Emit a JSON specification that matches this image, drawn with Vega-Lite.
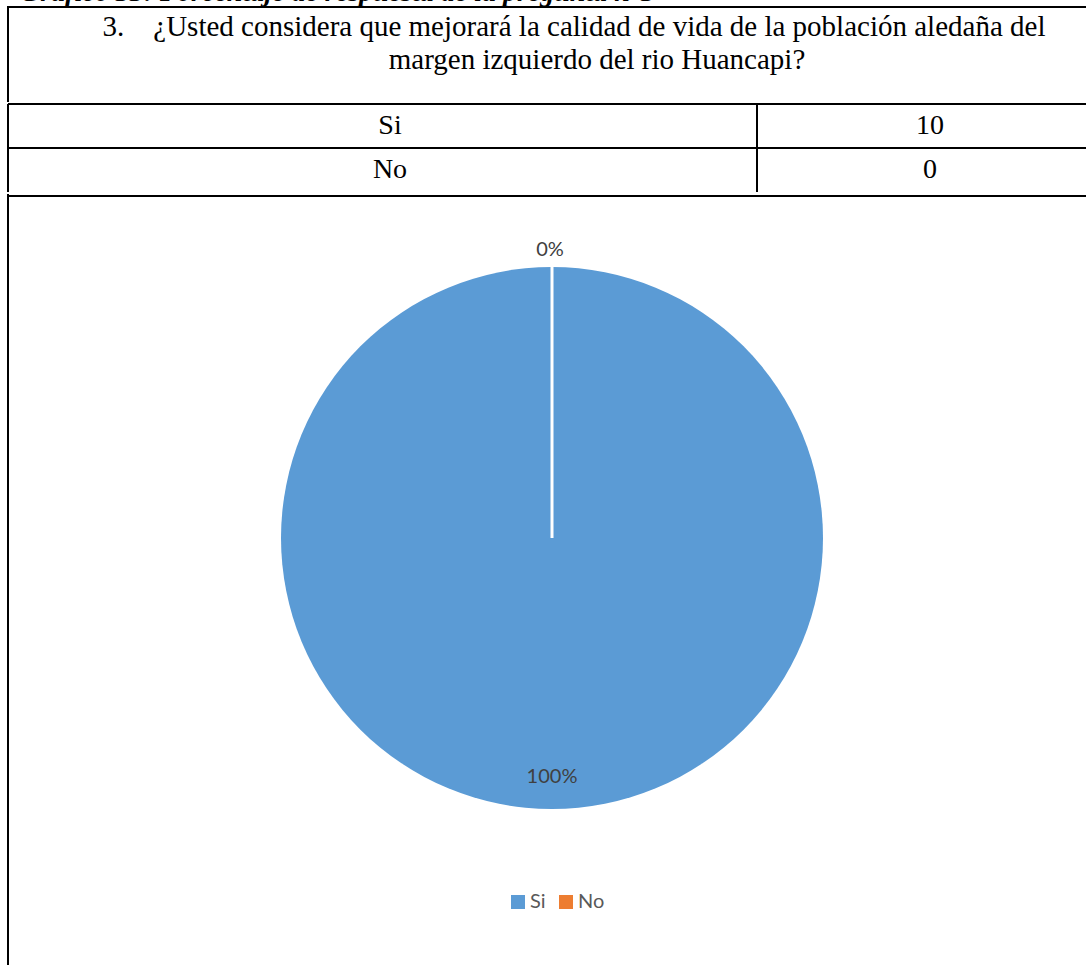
{
  "$schema": "https://vega.github.io/schema/vega-lite/v6.json",
  "padding": {"left": 7, "top": 0, "right": 0, "bottom": 0},
  "spacing": 0,
  "background": "white",
  "config": {"view": {"stroke": null}, "concat": {"spacing": 0}},
  "vconcat": [
    {
      "width": 1078,
      "height": 102,
      "data": {"values": [{"caption": "Gráfico 33: Porcentaje de respuesta de la pregunta n°3", "line1": "3.\u00a0\u00a0\u00a0\u00a0¿Usted considera que mejorará la calidad de vida de la población aledaña del", "line2": "margen izquierdo del rio Huancapi?"}]},
      "layer": [
        {"mark": {"type": "rule", "color": "black", "strokeWidth": 2},
         "encoding": {"y": {"datum": 7, "type": "quantitative", "scale": {"domain": [0, 102], "reverse": true, "nice": false, "zero": false}, "axis": null}}},
        {"mark": {"type": "rule", "color": "black", "strokeWidth": 2},
         "encoding": {"x": {"datum": 0, "type": "quantitative", "scale": {"domain": [0, 1078], "nice": false, "zero": false}, "axis": null}, "y": {"datum": 6, "type": "quantitative"}, "y2": {"datum": 102}}},
        {"mark": {"type": "text", "font": "Liberation Serif", "fontSize": 28, "fontStyle": "italic", "fontWeight": "bold", "align": "left", "baseline": "alphabetic", "clip": true, "color": "black"},
         "encoding": {"x": {"datum": 12, "type": "quantitative"}, "y": {"datum": 1, "type": "quantitative"}, "text": {"field": "caption"}}},
        {"mark": {"type": "text", "font": "Liberation Serif", "fontSize": 29, "align": "center", "baseline": "alphabetic", "color": "black"},
         "encoding": {"x": {"datum": 566, "type": "quantitative"}, "y": {"datum": 36, "type": "quantitative"}, "text": {"field": "line1"}}},
        {"mark": {"type": "text", "font": "Liberation Serif", "fontSize": 29, "align": "center", "baseline": "alphabetic", "color": "black"},
         "encoding": {"x": {"datum": 589, "type": "quantitative"}, "y": {"datum": 69, "type": "quantitative"}, "text": {"field": "line2"}}}
      ]
    },
    {
      "width": 1078,
      "height": 88,
      "data": {"values": [{"respuesta": "Si", "n": 10}, {"respuesta": "No", "n": 0}]},
      "layer": [
        {"mark": {"type": "rule", "color": "black", "strokeWidth": 2},
         "encoding": {"y": {"field": "respuesta", "type": "nominal", "sort": ["Si", "No"], "bandPosition": 0, "scale": {"type": "band", "paddingInner": 0, "paddingOuter": 0}, "axis": null}}},
        {"mark": {"type": "rule", "color": "black", "strokeWidth": 2},
         "encoding": {"x": {"datum": 749, "type": "quantitative", "scale": {"domain": [0, 1078], "nice": false, "zero": false}, "axis": null}}},
        {"mark": {"type": "rule", "color": "black", "strokeWidth": 2},
         "encoding": {"x": {"datum": 0, "type": "quantitative"}}},
        {"mark": {"type": "text", "font": "Liberation Serif", "fontSize": 28, "align": "center", "baseline": "middle", "color": "black"},
         "encoding": {"x": {"datum": 382, "type": "quantitative"}, "y": {"field": "respuesta", "type": "nominal", "sort": ["Si", "No"]}, "text": {"field": "respuesta"}}},
        {"mark": {"type": "text", "font": "Liberation Serif", "fontSize": 28, "align": "center", "baseline": "middle", "color": "black"},
         "encoding": {"x": {"datum": 922, "type": "quantitative"}, "y": {"field": "respuesta", "type": "nominal", "sort": ["Si", "No"]}, "text": {"field": "n"}}}
      ]
    },
    {
      "width": 1078,
      "height": 775,
      "data": {"values": [{"respuesta": "Si", "n": 10, "pct": "100%"}, {"respuesta": "No", "n": 0, "pct": "0%"}]},
      "layer": [
        {"mark": {"type": "rule", "color": "black", "strokeWidth": 2},
         "encoding": {"y": {"datum": 0, "type": "quantitative", "scale": {"domain": [0, 775], "reverse": true, "nice": false, "zero": false}, "axis": null}}},
        {"mark": {"type": "rule", "color": "black", "strokeWidth": 2},
         "encoding": {"x": {"datum": 0, "type": "quantitative", "scale": {"domain": [0, 1078], "nice": false, "zero": false}, "axis": null}, "y": {"datum": -2, "type": "quantitative"}, "y2": {"datum": 775}}},
        {"mark": {"type": "arc", "outerRadius": 271},
         "encoding": {
           "x": {"datum": 544, "type": "quantitative"},
           "y": {"datum": 342, "type": "quantitative"},
           "theta": {"field": "n", "type": "quantitative", "stack": true},
           "color": {"field": "respuesta", "type": "nominal", "scale": {"domain": ["Si", "No"], "range": ["#5B9BD5", "#ED7D31"]},
             "legend": {"orient": "none", "legendX": 500, "legendY": 892, "direction": "horizontal", "title": null, "symbolType": "square", "symbolSize": 196, "symbolStrokeWidth": 0, "labelFont": "Lato", "labelFontSize": 20, "labelColor": "#595959", "columnPadding": 10, "labelOffset": 2, "padding": 0}}
         }},
        {"transform": [{"filter": "datum.respuesta == 'No'"}],
         "mark": {"type": "arc", "outerRadius": 271, "fillOpacity": 0, "stroke": "white", "strokeWidth": 3},
         "encoding": {
           "x": {"datum": 544, "type": "quantitative"},
           "y": {"datum": 342, "type": "quantitative"},
           "theta": {"field": "n", "type": "quantitative", "stack": true}
         }},
        {"transform": [{"filter": "datum.respuesta == 'Si'"}],
         "mark": {"type": "text", "radius": 239, "font": "Lato", "fontSize": 20, "color": "#404040", "align": "center", "baseline": "middle"},
         "encoding": {
           "x": {"datum": 544, "type": "quantitative"},
           "y": {"datum": 342, "type": "quantitative"},
           "theta": {"field": "n", "type": "quantitative", "stack": true},
           "text": {"field": "pct"}
         }},
        {"transform": [{"filter": "datum.respuesta == 'No'"}],
         "mark": {"type": "text", "radius": 288, "font": "Lato", "fontSize": 20, "color": "#404040", "align": "center", "baseline": "middle"},
         "encoding": {
           "x": {"datum": 542, "type": "quantitative"},
           "y": {"datum": 342, "type": "quantitative"},
           "theta": {"field": "n", "type": "quantitative", "stack": true},
           "text": {"field": "pct"}
         }}
      ]
    }
  ]
}
